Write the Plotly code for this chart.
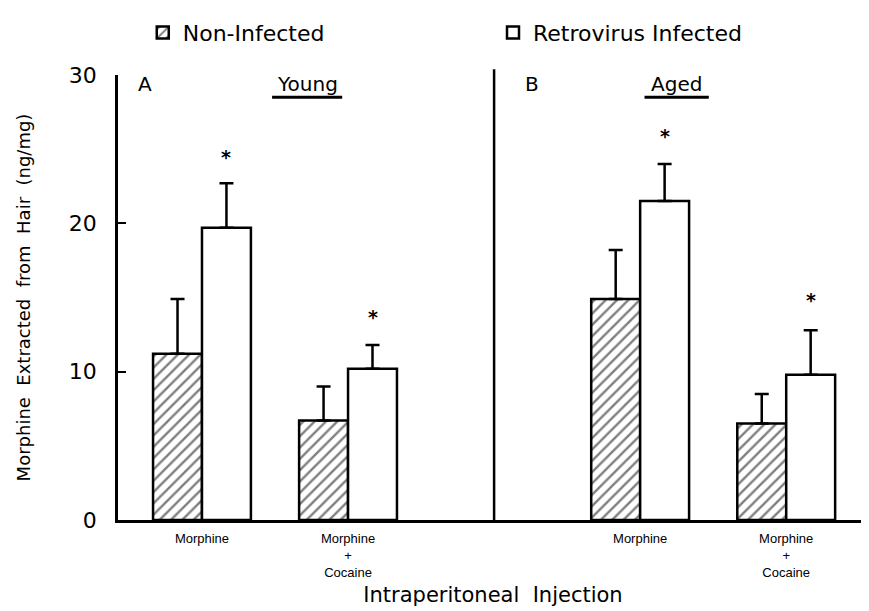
import plotly.graph_objects as go

# ---- data ----
groups = ["Young Morphine", "Young Morphine + Cocaine", "Aged Morphine", "Aged Morphine + Cocaine"]
group_pos = [0, 1, 3, 4]          # slot 2 is the gap with the panel divider
tick_labels = ["Morphine", "Morphine<br>+<br>Cocaine", "Morphine", "Morphine<br>+<br>Cocaine"]

non_infected = [11.2, 6.7, 14.9, 6.5]
non_infected_err = [3.7, 2.3, 3.3, 2.0]
retro_infected = [19.7, 10.2, 21.5, 9.8]
retro_infected_err = [3.0, 1.6, 2.5, 3.0]
star_y = [24.5, 13.7, 25.9, 14.8]

FONT = "DejaVu Sans, Liberation Sans, Arial, sans-serif"
TICK_FONT = "Liberation Sans, Arial, sans-serif"
BARGAP = 0.33

fig = go.Figure()
fig.add_trace(go.Bar(
    x=group_pos, y=non_infected, name="Non-Infected", legend="legend",
    marker=dict(color="white", line=dict(color="black", width=2.5),
                pattern=dict(shape="/", fgcolor="black", bgcolor="white", size=8, solidity=0.3)),
    error_y=dict(type="data", symmetric=False, array=non_infected_err,
                 arrayminus=[0] * len(non_infected_err), color="black", thickness=2.5, width=7),
))
fig.add_trace(go.Bar(
    x=group_pos, y=retro_infected, name="Retrovirus Infected", legend="legend2",
    marker=dict(color="white", line=dict(color="black", width=2.5)),
    error_y=dict(type="data", symmetric=False, array=retro_infected_err,
                 arrayminus=[0] * len(retro_infected_err), color="black", thickness=2.5, width=7),
))

offset = (1 - BARGAP) / 4
for gx, sy in zip(group_pos, star_y):
    fig.add_annotation(x=gx + offset, y=sy, text="<b>*</b>", showarrow=False,
                       font=dict(size=19, color="black", family=FONT))

# panel labels
lab_font = dict(size=20, color="black", family=FONT)
fig.add_annotation(x=-0.45, y=29.4, text="A", showarrow=False, xanchor="left", font=lab_font)
fig.add_annotation(x=0.72, y=29.4, text="Young", showarrow=False, font=lab_font)
fig.add_annotation(x=2.2, y=29.4, text="B", showarrow=False, xanchor="left", font=lab_font)
fig.add_annotation(x=3.25, y=29.4, text="Aged", showarrow=False, font=lab_font)
fig.add_annotation(x=2, y=-3.0, text=".", showarrow=False,
                   font=dict(size=16, color="black", family=FONT))

# underlines and divider
fig.add_shape(type="line", x0=0.48, x1=0.96, y0=28.5, y1=28.5, xref="x", yref="y",
              line=dict(color="black", width=3))
fig.add_shape(type="line", x0=3.03, x1=3.47, y0=28.5, y1=28.5, xref="x", yref="y",
              line=dict(color="black", width=3))
fig.add_shape(type="line", x0=2, x1=2, y0=0, y1=1.013, xref="x", yref="paper",
              line=dict(color="black", width=2.5))

leg_font = dict(size=22, family=FONT, color="black")
fig.update_layout(
    width=869, height=611,
    margin=dict(l=110, r=9, t=67, b=99, autoexpand=False),
    paper_bgcolor="white", plot_bgcolor="white",
    barmode="group", bargap=BARGAP, bargroupgap=0,
    font=dict(family=FONT, color="black"),
    showlegend=True,
    legend=dict(orientation="h", x=0.033, y=1.142, xanchor="left", yanchor="top",
                font=leg_font, bgcolor="rgba(0,0,0,0)"),
    legend2=dict(orientation="h", x=0.50, y=1.142, xanchor="left", yanchor="top",
                 font=leg_font, bgcolor="rgba(0,0,0,0)"),
    xaxis=dict(range=[-0.575, 4.56], tickvals=group_pos, ticktext=tick_labels,
               showline=True, linecolor="black", linewidth=2.5, ticks="",
               ticklabelstandoff=5,
               showgrid=False, zeroline=False,
               tickfont=dict(size=13, family=TICK_FONT, color="black"),
               title=dict(text="Intraperitoneal  Injection", standoff=9,
                          font=dict(size=21, family=FONT, color="black"))),
    yaxis=dict(range=[0, 30], tickvals=[0, 10, 20, 30],
               showline=True, linecolor="black", linewidth=2.5,
               ticks="inside", ticklen=8, tickwidth=2, tickcolor="black",
               ticklabelstandoff=14,
               showgrid=False, zeroline=False,
               tickfont=dict(size=22, family=FONT, color="black"),
               title=dict(text="Morphine  Extracted  from  Hair  (ng/mg)", standoff=34,
                          font=dict(size=18, family=FONT, color="black"))),
)

fig.write_html("out.html")
